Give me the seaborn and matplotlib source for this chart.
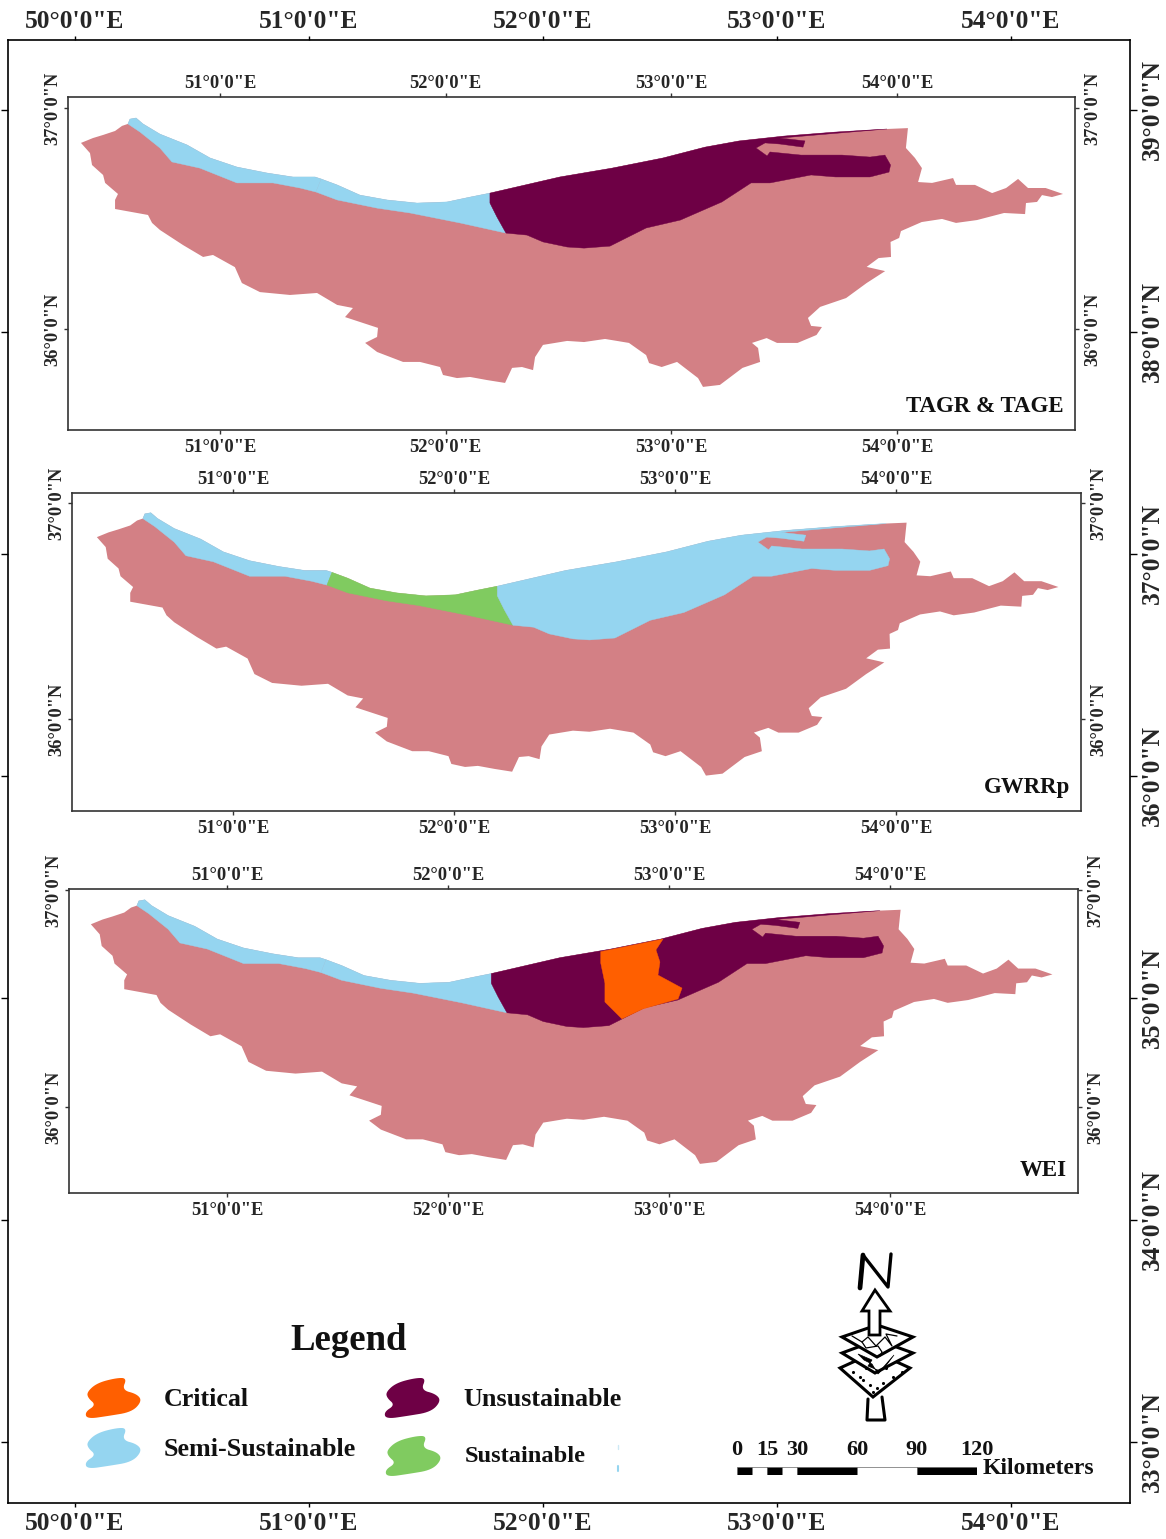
import matplotlib
matplotlib.use("Agg")
import matplotlib.pyplot as plt
import numpy as np
import seaborn as sns

W, H = 1166, 1539

##################################################################################
# map data (degrees)
##################################################################################
BASIN_LON = [50.384, 50.437, 50.482, 50.535, 50.566, 50.592, 50.601, 50.628, 50.659, 50.734, 50.854, 50.956,
             51.075, 51.208, 51.323, 51.421, 51.448, 51.519, 51.620, 51.740, 51.873, 52.006, 52.108, 52.196,
             52.506, 52.737, 52.963, 53.149, 53.300, 53.499, 53.725, 53.955, 54.048, 54.039, 54.079, 54.110,
             54.093, 54.155, 54.248, 54.261, 54.345, 54.421, 54.483, 54.536, 54.580, 54.658, 54.735, 54.686,
             54.642, 54.620, 54.571, 54.567, 54.474, 54.354, 54.261, 54.199, 54.109, 54.017, 54.009, 53.971,
             53.973, 53.918, 53.865, 53.947, 53.865, 53.774, 53.659, 53.605, 53.619, 53.667, 53.643, 53.559,
             53.468, 53.422, 53.357, 53.384, 53.393, 53.315, 53.215, 53.140, 53.118, 53.025, 52.957, 52.901,
             52.888, 52.812, 52.706, 52.613, 52.538, 52.431, 52.396, 52.387, 52.338, 52.294, 52.263, 52.183,
             52.108, 52.050, 51.988, 51.975, 51.886, 51.811, 51.696, 51.643, 51.696, 51.700, 51.554, 51.589,
             51.519, 51.430, 51.310, 51.177, 51.097, 51.066, 50.969, 50.925, 50.836, 50.734, 50.699, 50.681,
             50.535, 50.535, 50.548, 50.491, 50.482, 50.433, 50.424]
BASIN_LAT = [36.842, 36.864, 36.878, 36.896, 36.919, 36.928, 36.950, 36.955, 36.928, 36.882, 36.833, 36.774,
             36.733, 36.706, 36.688, 36.688, 36.679, 36.652, 36.606, 36.584, 36.570, 36.575, 36.597, 36.615,
             36.688, 36.728, 36.774, 36.823, 36.851, 36.873, 36.891, 36.905, 36.909, 36.819, 36.774, 36.728,
             36.665, 36.661, 36.683, 36.652, 36.652, 36.615, 36.638, 36.679, 36.638, 36.638, 36.611, 36.597,
             36.606, 36.575, 36.570, 36.520, 36.525, 36.493, 36.480, 36.498, 36.484, 36.443, 36.412, 36.394,
             36.326, 36.321, 36.281, 36.262, 36.208, 36.140, 36.100, 36.050, 36.014, 36.009, 35.973, 35.937,
             35.937, 35.959, 35.937, 35.914, 35.851, 35.824, 35.747, 35.738, 35.778, 35.851, 35.828, 35.846,
             35.882, 35.937, 35.955, 35.941, 35.946, 35.928, 35.873, 35.814, 35.828, 35.824, 35.756, 35.769,
             35.783, 35.778, 35.792, 35.828, 35.851, 35.851, 35.896, 35.937, 35.964, 36.005, 36.054, 36.095,
             36.109, 36.163, 36.154, 36.167, 36.208, 36.280, 36.335, 36.326, 36.380, 36.448, 36.480, 36.516,
             36.543, 36.584, 36.611, 36.661, 36.697, 36.742, 36.796]

# lower edge of the coastal strip, west to east
STRIP_LON = [50.646, 50.734, 50.787, 50.911, 51.075, 51.235, 51.355, 51.425, 51.519, 51.696, 51.842, 52.063, 52.267]
STRIP_LAT = [36.891, 36.819, 36.756, 36.728, 36.661, 36.661, 36.638, 36.620, 36.584, 36.547, 36.525, 36.480, 36.434]

# edge between strip and eastern zone
DIVIDE_LON = [52.196, 52.227]
DIVIDE_LAT = [36.570, 36.507]

# eastern zone edge, from the far tip on the coast back to the strip
EAST_LON = [53.481, 53.592, 53.583, 53.481, 53.415, 53.375, 53.424, 53.437, 53.574, 53.756, 53.880, 53.946,
            53.971, 53.964, 53.880, 53.727, 53.619, 53.437, 53.353, 53.224, 53.040, 52.888, 52.728, 52.613,
            52.538, 52.431, 52.360, 52.267]
EAST_LAT = [36.864, 36.851, 36.823, 36.837, 36.842, 36.819, 36.783, 36.801, 36.787, 36.787, 36.778, 36.787,
            36.742, 36.710, 36.688, 36.688, 36.697, 36.661, 36.661, 36.575, 36.493, 36.457, 36.375, 36.366,
            36.371, 36.394, 36.425, 36.434]

CRITICAL_LON = [52.691, 52.973, 52.941, 52.959, 52.950, 53.059, 53.041, 52.882, 52.787, 52.710, 52.710, 52.691]
CRITICAL_LAT = [36.716, 36.774, 36.724, 36.668, 36.608, 36.548, 36.498, 36.452, 36.406, 36.484, 36.571, 36.664]

LEGEND_NAMES = ["Critical", "Semi-Sustainable", "Unsustainable", "Sustainable"]
PANEL_NAMES = ["TAGR & TAGE", "GWRRp", "WEI"]
OUTER_LONS = [50, 51, 52, 53, 54]
OUTER_LATS = [39, 38, 37, 36, 35, 34, 33]
INNER_LONS = [51, 52, 53, 54]
INNER_LATS = [37, 36]
SCALE_KM = [0, 7.5, 15, 22.5, 30, 60, 90, 120]
SCALE_LABELS = [0, 15, 30, 60, 90, 120]

COLORS = dict(zip(["Base", *LEGEND_NAMES], sns.color_palette(["#D38085", "#FF5F00", "#95D5F0", "#6E0045", "#80CB60"])))

sns.set_theme(style="ticks")
plt.rcParams["font.family"] = ["Liberation Serif", "DejaVu Serif"]
plt.rcParams["font.weight"] = "bold"

fig = plt.figure(figsize=(W / 100, H / 100), dpi=100, facecolor="white")


def px_axes(x0, y0, x1, y1, **kw):
    return fig.add_axes([x0 / W, 1 - y1 / H, (x1 - x0) / W, (y1 - y0) / H], **kw)


def lon_fmt(v):
    return f"{v}°0'0\"E"


def lat_fmt(v):
    return f"{v}°0'0\"N"


def set_lat_labels(ax):
    for lab in ax.get_yticklabels():
        lab.set_rotation(90)
        lab.set_va("center")


##################################################################################
# outer graticule
##################################################################################
outer = px_axes(8, 40, 1130, 1503)
outer.set_xlim(50 + (8 - 75) / 234, 50 + (1130 - 75) / 234)
outer.set_ylim(39 - (1503 - 110) / 222, 39 + (110 - 40) / 222)
outer.set_xticks(OUTER_LONS, [lon_fmt(v) for v in OUTER_LONS])
outer.set_yticks(OUTER_LATS, [lat_fmt(v) for v in OUTER_LATS])
outer.tick_params(axis="x", top=True, labeltop=True, bottom=True, labelbottom=False,
                  labelsize=18.4, length=3, width=1, pad=2, color="black")
outer.tick_params(axis="y", left=True, labelleft=False, right=True, labelright=True,
                  labelsize=18.4, length=5, width=1, pad=3, color="black")
set_lat_labels(outer)
for lon in OUTER_LONS:
    outer.annotate(lon_fmt(lon), (lon, 0), xycoords=("data", "axes fraction"), xytext=(0, -14.4),
                   textcoords="offset points", ha="center", va="center", fontsize=18.4)
for s in outer.spines.values():
    s.set_linewidth(1.2)
    s.set_color("black")

##################################################################################
# three map panels
##################################################################################
coast_lon, coast_lat = np.array(BASIN_LON), np.array(BASIN_LAT)
strip_lon, strip_lat = np.array(STRIP_LON), np.array(STRIP_LAT)


def strip_west():
    return (np.r_[coast_lon[5:17], strip_lon[7::-1]],
            np.r_[coast_lat[5:17], strip_lat[7::-1]])


def strip_east():
    return (np.r_[coast_lon[16:24], DIVIDE_LON, strip_lon[:6:-1]],
            np.r_[coast_lat[16:24], DIVIDE_LAT, strip_lat[:6:-1]])


def east_zone():
    return (np.r_[coast_lon[23:32], EAST_LON, DIVIDE_LON[::-1]],
            np.r_[coast_lat[23:32], EAST_LAT, DIVIDE_LAT[::-1]])


# frame in pixels, pixel of 51E, px per deg lon, pixel of 37N, px per deg lat
PANELS = [
    dict(box=(68, 97, 1075, 430), x51=220, sx=225.7, y37=108, sy=221,
         zones=[(strip_west, "Semi-Sustainable"), (strip_east, "Semi-Sustainable"), (east_zone, "Unsustainable")]),
    dict(box=(72, 493, 1081, 811), x51=233, sx=221, y37=503, sy=216,
         zones=[(strip_west, "Semi-Sustainable"), (strip_east, "Sustainable"), (east_zone, "Semi-Sustainable")]),
    dict(box=(69, 889, 1078, 1193), x51=227, sx=221, y37=890, sy=217,
         zones=[(strip_west, "Semi-Sustainable"), (strip_east, "Semi-Sustainable"), (east_zone, "Unsustainable")]),
]

for p, name in zip(PANELS, PANEL_NAMES):
    x0, y0, x1, y1 = p["box"]
    ax = px_axes(x0, y0, x1, y1)
    ax.set_xlim(51 + (x0 - p["x51"]) / p["sx"], 51 + (x1 - p["x51"]) / p["sx"])
    ax.set_ylim(37 - (y1 - p["y37"]) / p["sy"], 37 - (y0 - p["y37"]) / p["sy"])
    ax.fill(BASIN_LON, BASIN_LAT, color=COLORS["Base"], lw=0)
    for zone, key in p["zones"]:
        zx, zy = zone()
        ax.fill(zx, zy, color=COLORS[key], lw=0.3)
    if name == "WEI":
        ax.fill(CRITICAL_LON, CRITICAL_LAT, color=COLORS["Critical"], lw=0.3)
    ax.set_xticks(INNER_LONS, [lon_fmt(v) for v in INNER_LONS])
    ax.set_yticks(INNER_LATS, [lat_fmt(v) for v in INNER_LATS])
    ax.tick_params(axis="x", top=True, labeltop=False, bottom=True, labelbottom=True,
                   labelsize=13.3, length=3, width=1, pad=3.5, color="#333333")
    ax.tick_params(axis="y", left=True, labelleft=True, labelright=False, right=True,
                   labelsize=13.3, length=3, width=1, pad=2, color="#333333")
    set_lat_labels(ax)
    # top and right labels sit at their own distance from the frame
    for lon in INNER_LONS:
        ax.annotate(lon_fmt(lon), (lon, 1), xycoords=("data", "axes fraction"), xytext=(0, 10),
                    textcoords="offset points", ha="center", va="center", fontsize=13.3)
    for lat in INNER_LATS:
        ax.annotate(lat_fmt(lat), (1, lat), xycoords=("axes fraction", "data"), xytext=(7, 0),
                    textcoords="offset points", rotation=90, ha="left", va="center", fontsize=13.3)
    for s in ax.spines.values():
        s.set_linewidth(1.2)
        s.set_color("#333333")
    fig.text((x1 - 11) / W, 1 - (y1 - 23) / H, name, fontsize=16.5, ha="right", va="center", color="#111111")

##################################################################################
# overlay in pixels: legend and north arrow
##################################################################################
over = px_axes(0, 0, W, H)
over.set_xlim(0, W)
over.set_ylim(H, 0)
over.axis("off")
over.patch.set_alpha(0)


def smooth(x, y, n=3):
    pts = np.c_[x, y]
    for _ in range(n):
        nxt = np.roll(pts, -1, axis=0)
        pts = np.c_[0.75 * pts + 0.25 * nxt, 0.25 * pts + 0.75 * nxt].reshape(-1, 2)
    return pts[:, 0], pts[:, 1]


blob_x, blob_y = smooth([1, 11, 30, 41, 36, 51, 56, 46, 22, 1, -1, 10, 2],
                        [13, 4, -1, -1, 11, 15, 22, 33, 37, 40, 33, 26, 19])
blob_pos = [(86, 1379), (86, 1429), (385, 1379), (386, 1437)]
text_pos = [(164, 1400, 18.7), (164, 1450, 18.7), (463, 1400, 18.8), (465, 1457, 17.6)]
for key, (bx, by), (tx, ty, fs) in zip(LEGEND_NAMES, blob_pos, text_pos):
    over.fill(blob_x + bx, blob_y + by, color=COLORS[key], lw=0)
    over.text(tx, ty, key, fontsize=fs, ha="left", va="center", color="#111111")
over.text(349, 1340, "Legend", fontsize=26.5, ha="center", va="center", color="#111111")
over.plot([617.5, 617.5], [1445, 1449], color="#CDE9F5", lw=1)
over.plot([617.5, 617.5], [1466, 1471], color="#95D5F0", lw=1.5)

# north letter
over.plot([860, 863, 888, 891], [1288, 1255, 1287, 1254], color="black", lw=2.4, solid_capstyle="round")
over.plot([860, 863], [1288, 1255], color="black", lw=3.4)
# bottom stem
over.plot([868, 867, 885, 882], [1399, 1420, 1420, 1397], color="black", lw=2.2)
# sheets, bottom up
sheet_x = [[840, 875, 910, 873], [842, 877, 913, 875], [842, 877, 913, 877]]
sheet_y = [[1368, 1352, 1368, 1397], [1353, 1340, 1353, 1373], [1337, 1325, 1337, 1357]]
for sx, sy in zip(sheet_x, sheet_y):
    over.fill(sx, sy, facecolor="white", edgecolor="black", lw=2.2, joinstyle="miter")
over.scatter([853, 860, 863, 870, 877, 883, 893, 902, 873, 866, 886],
             [1372, 1377, 1380, 1385, 1388, 1383, 1377, 1372, 1392, 1368, 1368], s=5, color="black", lw=0)
over.fill([858, 872, 868, 880, 894, 885, 878, 872, 864], [1354, 1360, 1366, 1371, 1355, 1367, 1374, 1364, 1360],
          color="black", lw=0.5)
over.plot([852, 862, 868, 876, 885, 892, 886, 897], [1336, 1342, 1337, 1346, 1337, 1346, 1334, 1336], color="black", lw=0.9)
over.plot([862, 866, 878, 882, 880], [1342, 1348, 1346, 1352, 1356], color="black", lw=0.9)
# arrow
over.fill([875, 862, 869, 869, 880, 880, 890], [1290, 1311, 1311, 1335, 1335, 1311, 1311],
          facecolor="white", edgecolor="black", lw=2.0)

##################################################################################
# scale bar, in km
##################################################################################
bar = px_axes(737, 1467, 977, 1475)
bar.set_xlim(0, 120)
bar.set_ylim(0, 1)
bar.axis("off")
for i, (a, b) in enumerate(zip(SCALE_KM[:-1], SCALE_KM[1:])):
    bar.barh(0.5, b - a, left=a, height=1, color="black" if i % 2 == 0 else "white",
             edgecolor="#666666", lw=0.5)
for km in SCALE_LABELS:
    over.text(737 + km * 2, 1450, str(km), fontsize=16, ha="center", va="center", color="#111111")
over.text(983, 1469, "Kilometers", fontsize=17, ha="left", va="center", color="#111111")

fig.savefig("out.png", dpi=100)
